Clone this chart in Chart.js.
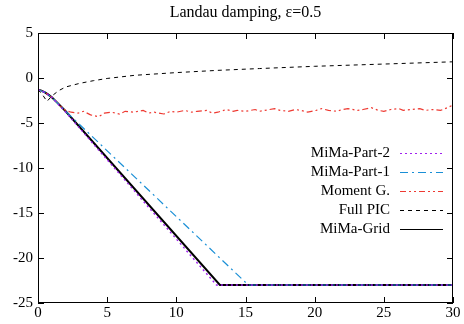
<!DOCTYPE html>
<html>
<head>
<meta charset="utf-8">
<script src="https://cdn.jsdelivr.net/npm/chart.js@4.4.1/dist/chart.umd.min.js"></script>
<style>
  html, body { margin: 0; padding: 0; background: #fff; }
  #wrap { width: 464px; height: 324px; }
</style>
</head>
<body>
<div id="wrap"><canvas id="chart" width="464" height="324"></canvas></div>
<script>
/* ================= DATA ================= */
const chartTitle = "Landau damping, \u03b5=0.5";
const xTicks = [0, 5, 10, 15, 20, 25, 30];
const yTicks = [-25, -20, -15, -10, -5, 0, 5];

const gridT = [0, 0.25, 0.5, 0.75, 1, 1.5, 2, 13.15, 30];
const gridV = [-1.3, -1.4, -1.6, -1.85, -2.15, -2.9, -3.7, -23, -23];

const part2T = [0, 0.5, 1, 2, 12.9, 30];
const part2V = [-1.3, -1.6, -2.15, -3.8, -23, -23];

const part1T = [0, 0.5, 1, 2, 15.2, 30];
const part1V = [-1.3, -1.6, -2.15, -3.7, -23, -23];

const picT = [0, 0.3, 0.65, 1, 1.5, 2, 3, 4, 5, 7, 10, 13, 16, 20, 25, 30];
const picV = [-1.3, -1.8, -2.6, -2.0, -1.4, -1.0, -0.6, -0.3, -0.05, 0.3, 0.6, 0.85, 1.05, 1.3, 1.55, 1.8];

const momentT = [0, 0.5, 1, 1.5, 1.8, 2, 2.4, 2.9, 3.3, 3.8, 4.4, 4.8, 5.3, 5.9, 6.3, 6.9, 7.6, 8.0, 8.4, 9.1, 9.6,
  10, 10.6, 11.1, 11.5, 12.2, 12.6, 13, 13.6, 14.1, 14.4, 15, 15.7, 16, 16.4, 17.1, 17.5, 18.1, 18.6, 19, 19.5,
  20.1, 20.5, 21, 21.6, 22, 22.4, 23.1, 23.5, 24.1, 24.6, 25, 25.5, 26.1, 26.4, 27, 27.6, 28, 28.5, 29.1, 29.6, 30];
const momentV = [-1.3, -1.6, -2.15, -2.9, -3.4, -3.6, -3.8, -3.9, -3.7, -4.1, -4.3, -3.9, -3.8, -4.0, -3.7, -3.8, -3.6, -3.9, -3.8, -4.0, -3.7,
  -3.8, -3.6, -3.8, -3.7, -3.6, -3.9, -3.8, -3.5, -3.7, -3.6, -3.7, -3.5, -3.7, -3.6, -3.4, -3.6, -3.7, -3.5, -3.6, -3.8,
  -3.6, -3.4, -3.6, -3.7, -3.5, -3.4, -3.6, -3.5, -3.3, -3.6, -3.7, -3.5, -3.4, -3.6, -3.5, -3.4, -3.6, -3.5, -3.6, -3.3, -3.0];

const toPoints = (ts, vs) => ts.map((t, i) => ({ x: t, y: vs[i] }));

/* ================= STYLE ================= */
const serif = "'Liberation Serif', 'DejaVu Serif', serif";

const series = [
  { label: "MiMa-Part-2", data: toPoints(part2T, part2V), color: "#a020f0", width: 1.4, dash: [2, 3] },
  { label: "MiMa-Part-1", data: toPoints(part1T, part1V), color: "#1a8fd6", width: 1.2, dash: [8, 4, 2, 4] },
  { label: "Moment G.", data: toPoints(momentT, momentV), color: "#ee3a32", width: 1.2, dash: [6, 3, 2, 3, 2, 3] },
  { label: "Full PIC", data: toPoints(picT, picV), color: "#000000", width: 1, dash: [4, 4] },
  { label: "MiMa-Grid", data: toPoints(gridT, gridV), color: "#000000", width: 2, dash: [] }
];

/* ================= PLUGINS ================= */
const frame = {
  id: "frame",
  afterDatasetsDraw(chart) {
    const { ctx, chartArea: a, scales } = chart;
    ctx.save();
    ctx.strokeStyle = "#000";
    ctx.lineWidth = 1;
    ctx.setLineDash([]);
    ctx.strokeRect(a.left + 0.5, a.top + 0.5, a.right - a.left - 1, a.bottom - a.top - 1);
    ctx.beginPath();
    xTicks.forEach(v => {
      const px = Math.round(scales.x.getPixelForValue(v)) + 0.5;
      ctx.moveTo(px, a.bottom); ctx.lineTo(px, a.bottom - 6);
      ctx.moveTo(px, a.top); ctx.lineTo(px, a.top + 6);
    });
    yTicks.forEach(v => {
      const py = Math.round(scales.y.getPixelForValue(v)) + 0.5;
      ctx.moveTo(a.left, py); ctx.lineTo(a.left + 6, py);
      ctx.moveTo(a.right, py); ctx.lineTo(a.right - 6, py);
    });
    ctx.stroke();

    // title
    ctx.fillStyle = "#000";
    ctx.font = "16px " + serif;
    ctx.textAlign = "center";
    ctx.textBaseline = "middle";
    ctx.fillText(chartTitle, (a.left + a.right) / 2, 13);

    // legend, gnuplot style
    ctx.font = "15px " + serif;
    ctx.textAlign = "right";
    series.forEach((s, i) => {
      const y = 153 + i * 19;
      ctx.fillText(s.label, 390, y);
      ctx.strokeStyle = s.color;
      ctx.lineWidth = 1.2;
      ctx.setLineDash(s.dash);
      ctx.beginPath();
      ctx.moveTo(400, y + 0.5);
      ctx.lineTo(443, y + 0.5);
      ctx.stroke();
    });
    ctx.restore();
  }
};

/* ================= CHART ================= */
new Chart(document.getElementById("chart"), {
  type: "line",
  data: {
    datasets: series.map(s => ({
      label: s.label,
      data: s.data,
      borderColor: s.color,
      borderWidth: s.width,
      borderDash: s.dash,
      pointRadius: 0,
      tension: 0,
      fill: false
    }))
  },
  options: {
    responsive: false,
    animation: false,
    layout: { padding: { top: 33, right: 11, left: 0, bottom: 0 } },
    plugins: { legend: { display: false }, tooltip: { enabled: false }, title: { display: false } },
    scales: {
      x: {
        type: "linear", min: 0, max: 30,
        afterFit: s => { s.height = 21; },
        afterBuildTicks: s => { s.ticks = xTicks.map(v => ({ value: v })); },
        ticks: { color: "#000", font: { family: serif, size: 15 }, padding: 1, maxRotation: 0 },
        grid: { display: false, drawTicks: false },
        border: { display: false }
      },
      y: {
        type: "linear", min: -25, max: 5,
        afterFit: s => { s.width = 38; },
        afterBuildTicks: s => { s.ticks = yTicks.map(v => ({ value: v })); },
        ticks: { color: "#000", font: { family: serif, size: 15 }, padding: 5 },
        grid: { display: false, drawTicks: false },
        border: { display: false }
      }
    }
  },
  plugins: [frame]
});
</script>
</body>
</html>
